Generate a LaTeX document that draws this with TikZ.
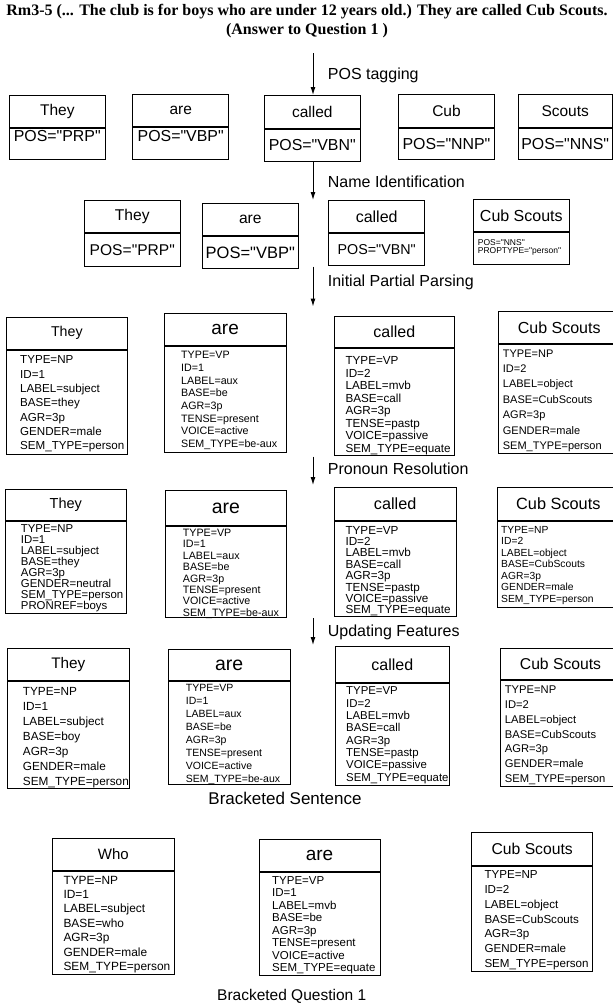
\documentclass[tikz,border=0pt]{standalone}
\usepackage{fontspec}
\setmainfont{Liberation Sans}[Ligatures=TeXOff]
\newfontfamily\titlefont{Liberation Serif}
\usetikzlibrary{arrows.meta}
\newcommand{\fsz}[2]{\fontsize{#1}{#2}\selectfont}
\tikzset{
  hd/.style={draw, line width=1pt, inner sep=0pt},
  bd/.style={draw, line width=1pt, inner sep=0pt, anchor=north},
  attr/.style={anchor=north west, align=left, inner sep=0pt},
  flow/.style={line width=1pt, -{Latex[length=8pt,width=5pt]}},
  steplab/.style={anchor=west, inner sep=0pt, font=\fsz{16}{19}}
}
\begin{document}
\begin{tikzpicture}[x=1pt,y=-1pt]
\path[use as bounding box, clip] (0,0) rectangle (613,1004);
% title
\node[font=\titlefont\bfseries\fsz{16}{19}] (title1) at (307,12) {Rm3-5 (... The club is for boys who are under 12 years old.) They are called Cub Scouts.};
\node[font=\titlefont\bfseries\fsz{16}{19}] (title2) at (307,31) {(Answer to Question 1 )};
% steps
\coordinate (a1s) at (313,53);    \coordinate (a1e) at (313,95);
\coordinate (a2s) at (313,161.5); \coordinate (a2e) at (313,200);
\coordinate (a3s) at (313,266.5); \coordinate (a3e) at (313,306.5);
\coordinate (a4s) at (313,456.5); \coordinate (a4e) at (313,485);
\coordinate (a5s) at (313,618);   \coordinate (a5e) at (313,645);
\draw[flow] (a1s) -- (a1e);
\draw[flow] (a2s) -- (a2e);
\draw[flow] (a3s) -- (a3e);
\draw[flow] (a4s) -- (a4e);
\draw[flow] (a5s) -- (a5e);
\node[steplab] (s1) at (327.7,75) {POS tagging};
\node[steplab] (s2) at (327.7,181.7) {Name Identification};
\node[steplab] (s3) at (327.7,282.7) {Initial Partial Parsing};
\node[steplab] (s4) at (327.7,468.3) {Pronoun Resolution};
\node[steplab] (s5) at (327.7,632) {Updating Features};
% row 1
\node[hd, minimum width=96, minimum height=31.6, font=\fsz{15.5}{18}] (r1they) at (57.3,111.5) {They};
\node[bd, minimum width=96, minimum height=31.4, text depth=16pt, font=\fsz{15.9}{18}] (r1they-b) at (r1they.south) {POS="PRP"};
\node[hd, minimum width=96, minimum height=32.4, font=\fsz{15.5}{18}] (r1are) at (180.7,110.5) {are};
\node[bd, minimum width=96, minimum height=32, text depth=16pt, font=\fsz{15.9}{18}] (r1are-b) at (r1are.south) {POS="VBP"};
\node[hd, minimum width=96, minimum height=32.3, font=\fsz{15.5}{18}] (r1called) at (312.3,111.85) {called};
\node[bd, minimum width=96, minimum height=32, font=\fsz{15.9}{18}] (r1called-b) at (r1called.south) {POS="VBN"};
\node[hd, minimum width=96, minimum height=33, font=\fsz{15.5}{18}] (r1cub) at (446.5,110.8) {Cub};
\node[bd, minimum width=96, minimum height=31.4, font=\fsz{15.9}{18}] (r1cub-b) at (r1cub.south) {POS="NNP"};
\node[hd, minimum width=93.7, minimum height=33, font=\fsz{15.5}{18}] (r1scouts) at (565.2,110.8) {Scouts};
\node[bd, minimum width=93.7, minimum height=31.4, font=\fsz{15.9}{18}] (r1scouts-b) at (r1scouts.south) {POS="NNS"};
% row 2
\node[hd, minimum width=96, minimum height=32, font=\fsz{15.6}{18}] (r2they) at (132.3,216.7) {They};
\node[bd, minimum width=96, minimum height=32.3, font=\fsz{15.6}{18}] (r2they-b) at (r2they.south) {POS="PRP"};
\node[hd, minimum width=96, minimum height=32.4, font=\fsz{15.6}{18}] (r2are) at (250.3,219.5) {are};
\node[bd, minimum width=96, minimum height=32, font=\fsz{16.5}{18}] (r2are-b) at (r2are.south) {POS="VBP"};
\node[hd, minimum width=96, minimum height=32, font=\fsz{16}{18}] (r2called) at (376.7,216.7) {called};
\node[bd, minimum width=96, minimum height=31.6, font=\fsz{14.3}{18}] (r2called-b) at (r2called.south) {POS="VBN"};
\node[hd, minimum width=96, minimum height=32.4, font=\fsz{16}{18}] (r2cub) at (521.3,215.5) {Cub Scouts};
\node[bd, minimum width=96, minimum height=31.6] (r2cub-b) at (r2cub.south) {};
\node[attr, font=\fsz{8.5}{8.4}] (r2cub-t) at (477.7,239.3) {POS="NNS"\\PROPTYPE="person"};
% row 3
\node[hd, minimum width=121.7, minimum height=31.7, font=\fsz{14.2}{17}] (r3they) at (66.85,333.15) {They};
\node[bd, minimum width=121.7, minimum height=104.3] (r3they-b) at (r3they.south) {};
\node[attr, font=\fsz{11.6}{14.3}] (r3they-t) at (20,355.8) {TYPE=NP\\ID=1\\LABEL=subject\\BASE=they\\AGR=3p\\GENDER=male\\SEM\_TYPE=person};
\node[hd, minimum width=121.7, minimum height=32.4, font=\fsz{19}{22}] (r3are) at (225.15,329.5) {are};
\node[bd, minimum width=121.7, minimum height=106] (r3are-b) at (r3are.south) {};
\node[attr, font=\fsz{10.7}{12.7}] (r3are-t) at (181,351.2) {TYPE=VP\\ID=1\\LABEL=aux\\BASE=be\\AGR=3p\\TENSE=present\\VOICE=active\\SEM\_TYPE=be-aux};
\node[hd, minimum width=120, minimum height=31, font=\fsz{16}{19}] (r3called) at (394.3,332.2) {called};
\node[bd, minimum width=120, minimum height=106.6] (r3called-b) at (r3called.south) {};
\node[attr, font=\fsz{11.7}{12.5}] (r3called-t) at (345.3,356.6) {TYPE=VP\\ID=2\\LABEL=mvb\\BASE=call\\AGR=3p\\TENSE=pastp\\VOICE=passive\\SEM\_TYPE=equate};
\node[hd, minimum width=121, minimum height=31.6, font=\fsz{16}{19}] (r3cub) at (559.2,327.5) {Cub Scouts};
\node[bd, minimum width=121, minimum height=109.4] (r3cub-b) at (r3cub.south) {};
\node[attr, font=\fsz{11}{15.4}] (r3cub-t) at (502.7,349.4) {TYPE=NP\\ID=2\\LABEL=object\\BASE=CubScouts\\AGR=3p\\GENDER=male\\SEM\_TYPE=person};
% row 4
\node[hd, minimum width=121.7, minimum height=31.7, font=\fsz{14.5}{17}] (r4they) at (65.85,504.85) {They};
\node[bd, minimum width=121.7, minimum height=91.6] (r4they-b) at (r4they.south) {};
\node[attr, font=\fsz{11.4}{11}] (r4they-t) at (20.7,524.6) {TYPE=NP\\ID=1\\LABEL=subject\\BASE=they\\AGR=3p\\GENDER=neutral\\SEM\_TYPE=person\\PRONREF=boys};
\node[hd, minimum width=121.7, minimum height=35.7, font=\fsz{19.5}{22}] (r4are) at (225.85,507.85) {are};
\node[bd, minimum width=121.7, minimum height=91] (r4are-b) at (r4are.south) {};
\node[attr, font=\fsz{10.7}{11.4}] (r4are-t) at (182.7,528.9) {TYPE=VP\\ID=1\\LABEL=aux\\BASE=be\\AGR=3p\\TENSE=present\\VOICE=active\\SEM\_TYPE=be-aux};
\node[hd, minimum width=121.7, minimum height=32.3, font=\fsz{16.2}{19}] (r4called) at (395.15,503.85) {called};
\node[bd, minimum width=121.7, minimum height=95] (r4called-b) at (r4called.south) {};
\node[attr, font=\fsz{11.7}{11.4}] (r4called-t) at (345.3,525.9) {TYPE=VP\\ID=2\\LABEL=mvb\\BASE=call\\AGR=3p\\TENSE=pastp\\VOICE=passive\\SEM\_TYPE=equate};
\node[hd, minimum width=121.3, minimum height=32.3, font=\fsz{16.3}{19}] (r4cub) at (558.35,503.85) {Cub Scouts};
\node[bd, minimum width=121.3, minimum height=86.7] (r4cub-b) at (r4cub.south) {};
\node[attr, font=\fsz{10.3}{11.5}] (r4cub-t) at (501,526.2) {TYPE=NP\\ID=2\\LABEL=object\\BASE=CubScouts\\AGR=3p\\GENDER=male\\SEM\_TYPE=person};
% row 5
\node[hd, minimum width=122, minimum height=31.7, font=\fsz{15.3}{18}] (r5they) at (68.3,664.15) {They};
\node[bd, minimum width=122, minimum height=107.7] (r5they-b) at (r5they.south) {};
\node[attr, font=\fsz{11.8}{15}] (r5they-t) at (22.7,686.8) {TYPE=NP\\ID=1\\LABEL=subject\\BASE=boy\\AGR=3p\\GENDER=male\\SEM\_TYPE=person};
\node[hd, minimum width=121.7, minimum height=31.7, font=\fsz{19.5}{22}] (r5are) at (229.15,664.85) {are};
\node[bd, minimum width=121.7, minimum height=102.6] (r5are-b) at (r5are.south) {};
\node[attr, font=\fsz{10.5}{12.9}] (r5are-t) at (185.7,684.5) {TYPE=VP\\ID=1\\LABEL=aux\\BASE=be\\AGR=3p\\TENSE=present\\VOICE=active\\SEM\_TYPE=be-aux};
\node[hd, minimum width=114, minimum height=35.6, font=\fsz{16}{19}] (r5called) at (392.3,664.5) {called};
\node[bd, minimum width=114, minimum height=102] (r5called-b) at (r5called.south) {};
\node[attr, font=\fsz{11.4}{12.3}] (r5called-t) at (346,686.9) {TYPE=VP\\ID=2\\LABEL=mvb\\BASE=call\\AGR=3p\\TENSE=pastp\\VOICE=passive\\SEM\_TYPE=equate};
\node[hd, minimum width=121, minimum height=30.7, font=\fsz{15.7}{19}] (r5cub) at (560.5,663.65) {Cub Scouts};
\node[bd, minimum width=121, minimum height=106.7] (r5cub-b) at (r5cub.south) {};
\node[attr, font=\fsz{11.2}{14.7}] (r5cub-t) at (504.7,686) {TYPE=NP\\ID=2\\LABEL=object\\BASE=CubScouts\\AGR=3p\\GENDER=male\\SEM\_TYPE=person};
\node[font=\fsz{17}{20}] (brsent) at (285,798) {Bracketed Sentence};
% row 6
\node[hd, minimum width=121.3, minimum height=31.7, font=\fsz{15}{18}] (r6who) at (113.35,854.15) {Who};
\node[bd, minimum width=121.3, minimum height=103.3] (r6who-b) at (r6who.south) {};
\node[attr, font=\fsz{11.9}{14.4}] (r6who-t) at (63.3,875.7) {TYPE=NP\\ID=1\\LABEL=subject\\BASE=who\\AGR=3p\\GENDER=male\\SEM\_TYPE=person};
\node[hd, minimum width=121, minimum height=32, font=\fsz{19}{22}] (r6are) at (319.5,855) {are};
\node[bd, minimum width=121, minimum height=103.3] (r6are-b) at (r6are.south) {};
\node[attr, font=\fsz{11.5}{12.5}] (r6are-t) at (272,875.9) {TYPE=VP\\ID=1\\LABEL=mvb\\BASE=be\\AGR=3p\\TENSE=present\\VOICE=active\\SEM\_TYPE=equate};
\node[hd, minimum width=121, minimum height=32.3, font=\fsz{15.7}{19}] (r6cub) at (532.2,848.85) {Cub Scouts};
\node[bd, minimum width=121, minimum height=105] (r6cub-b) at (r6cub.south) {};
\node[attr, font=\fsz{11.6}{14.7}] (r6cub-t) at (484.3,870.8) {TYPE=NP\\ID=2\\LABEL=object\\BASE=CubScouts\\AGR=3p\\GENDER=male\\SEM\_TYPE=person};
\node[font=\fsz{15.5}{18}] (brq1) at (291.7,996) {Bracketed Question 1};
\end{tikzpicture}
\end{document}
